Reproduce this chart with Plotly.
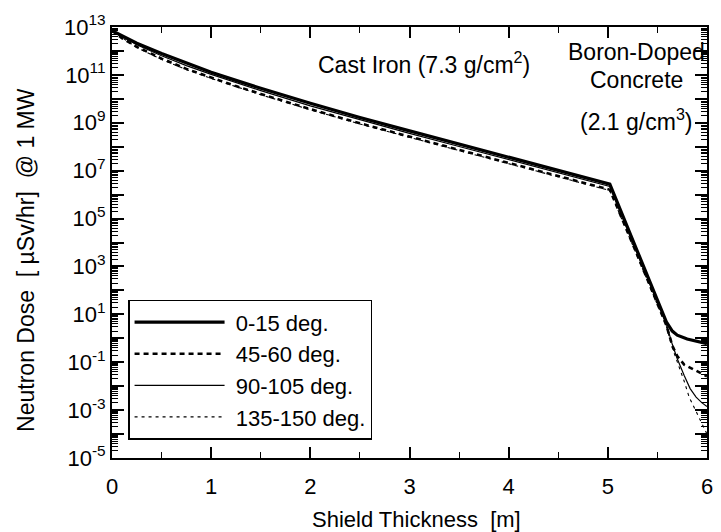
import plotly.graph_objects as go

FONT = "Liberation Sans, Arial, Helvetica, sans-serif"

# ---- data (dose in µSv/hr @ 1 MW vs shield thickness in m) ----
x_0_15 = [0, 0.1, 0.25, 0.5, 0.75, 1.0, 1.25, 1.5, 2.0, 2.5, 3.0, 3.5, 4.0, 4.5, 5.02,
          5.3, 5.59, 5.65, 5.7, 5.8, 5.9, 6.0]
y_0_15 = [7.1e12, 4.3e12, 2.1e12, 7.8e11, 3.1e11, 1.3e11, 5.9e10, 2.75e10, 6.5e9, 1.66e9,
          4.6e8, 1.3e8, 3.6e7, 1.0e7, 2.75e6, 4.1e3, 4.8, 2.0, 1.35, 0.93, 0.76, 0.6]

x_45_60 = [0, 0.1, 0.25, 0.5, 0.75, 1.0, 1.25, 1.5, 2.0, 2.5, 3.0, 3.5, 4.0, 4.5, 5.02,
           5.3, 5.59, 5.65, 5.7, 5.77, 5.87, 5.97, 6.0]
y_45_60 = [7.1e12, 3.4e12, 1.48e12, 4.8e11, 1.78e11, 7.6e10, 3.4e10, 1.6e10, 3.7e9, 9.5e8,
           2.6e8, 7.4e7, 2.1e7, 5.9e6, 1.6e6, 2.8e3, 3.5, 0.5, 0.18, 0.079, 0.047, 0.030, 0.026]

x_90_105 = [0, 0.25, 0.5, 0.75, 1.0, 1.5, 2.0, 2.5, 3.0, 3.5, 4.0, 4.5, 5.02,
            5.3, 5.59, 5.65, 5.7, 5.77, 5.83, 5.89, 5.95, 6.0]
y_90_105 = [7.1e12, 1.8e12, 6.3e11, 2.45e11, 1.05e11, 2.2e10, 5.1e9, 1.32e9, 3.6e8, 1.02e8,
            2.9e7, 8.1e6, 2.2e6, 3.2e3, 4.0, 0.56, 0.14, 0.028, 7.9e-3, 3.5e-3, 2.0e-3, 1.4e-3]

x_135_150 = [0, 0.25, 0.5, 0.75, 1.0, 1.5, 2.0, 2.5, 3.0, 3.5, 4.0, 4.5, 5.02,
             5.3, 5.59, 5.65, 5.72, 5.77, 5.82, 5.87, 5.92, 5.96, 6.0]
y_135_150 = [7.1e12, 1.38e12, 4.4e11, 1.66e11, 7.1e10, 1.48e10, 3.5e9, 8.9e8, 2.45e8, 6.9e7,
             1.95e7, 5.5e6, 1.48e6, 2.5e3, 3.2, 0.4, 0.063, 0.016, 3.5e-3, 1.26e-3, 5.0e-4,
             2.0e-4, 1.0e-4]

series_names = ["0-15 deg.", "45-60 deg.", "90-105 deg.", "135-150 deg."]

y_exponents = list(range(-5, 14))
y_tick_vals = [10.0 ** k for k in y_exponents]
y_tick_text = [f"10<sup>{k}</sup>" if k % 2 != 0 else "" for k in y_exponents]
y_minor_vals = [m * 10.0 ** k for k in range(-5, 13) for m in range(2, 10)]

x_tick_vals = [0, 1, 2, 3, 4, 5, 6]

# ---- figure ----
fig = go.Figure()
styles = [
    dict(color="black", width=3.2, dash="solid"),
    dict(color="black", width=2.6, dash="5px,4px"),
    dict(color="black", width=1.2, dash="solid"),
    dict(color="black", width=1.1, dash="3px,4px"),
]
for name, xs, ys, st in zip(series_names,
                            [x_0_15, x_45_60, x_90_105, x_135_150],
                            [y_0_15, y_45_60, y_90_105, y_135_150],
                            styles):
    fig.add_trace(go.Scatter(x=xs, y=ys, mode="lines", name="\u00a0" + name, line=st))

fig.update_layout(
    width=721, height=532,
    margin=dict(l=112, r=8, t=27, b=74),
    paper_bgcolor="white", plot_bgcolor="white",
    font=dict(family=FONT, size=22, color="black"),
    showlegend=True,
    legend=dict(
        x=0.027, y=0.367, xanchor="left", yanchor="top",
        bgcolor="white", bordercolor="black", borderwidth=1.5,
        font=dict(family=FONT, size=22, color="black"),
        itemwidth=90, tracegroupgap=0,
    ),
)

fig.update_xaxes(
    range=[0, 6], showgrid=False, zeroline=False,
    showline=True, linecolor="black", linewidth=2, mirror="allticks",
    ticks="inside", ticklen=11, tickwidth=1.5, tickcolor="black",
    tickmode="array", tickvals=x_tick_vals,
    ticklabelstandoff=8,
    minor=dict(ticks="inside", ticklen=6, tickwidth=1.2, tickcolor="black", dtick=0.5),
    tickfont=dict(family=FONT, size=22),
)
fig.update_yaxes(
    type="log", range=[-5, 13], showgrid=False, zeroline=False,
    showline=True, linecolor="black", linewidth=2, mirror="allticks",
    ticks="inside", ticklen=12, tickwidth=1.5, tickcolor="black",
    tickmode="array", tickvals=y_tick_vals, ticktext=y_tick_text,
    ticklabelstandoff=0,
    minor=dict(ticks="inside", ticklen=6, tickwidth=1.1, tickcolor="black",
               tickmode="array", tickvals=y_minor_vals),
    tickfont=dict(family=FONT, size=22),
)

annotations = [
    dict(text="Cast Iron (7.3 g/cm<sup>2</sup>)", x=3.15, y=11.5, xref="x", yref="y"),
    dict(text="Boron-Doped", x=5.29, y=11.96, xref="x", yref="y"),
    dict(text="Concrete", x=5.29, y=10.79, xref="x", yref="y"),
    dict(text="(2.1 g/cm<sup>3</sup>)", x=5.29, y=9.12, xref="x", yref="y"),
]
for a in annotations:
    fig.add_annotation(showarrow=False, xanchor="center", yanchor="middle",
                       font=dict(family=FONT, size=23, color="black"), **a)

fig.add_annotation(text="Shield Thickness\u00a0\u00a0[m]", xref="paper", yref="paper",
                   x=0.512, y=-0.143, xanchor="center", yanchor="middle", showarrow=False,
                   font=dict(family=FONT, size=22, color="black"))
fig.add_annotation(text="Neutron Dose\u00a0\u00a0[\u00a0\u00b5Sv/hr]\u00a0\u00a0@\u00a01\u00a0MW",
                   xref="paper", yref="paper", x=-0.145, y=0.459, textangle=-90,
                   xanchor="center", yanchor="middle", showarrow=False,
                   font=dict(family=FONT, size=23, color="black"))

fig.write_html("out.html")
